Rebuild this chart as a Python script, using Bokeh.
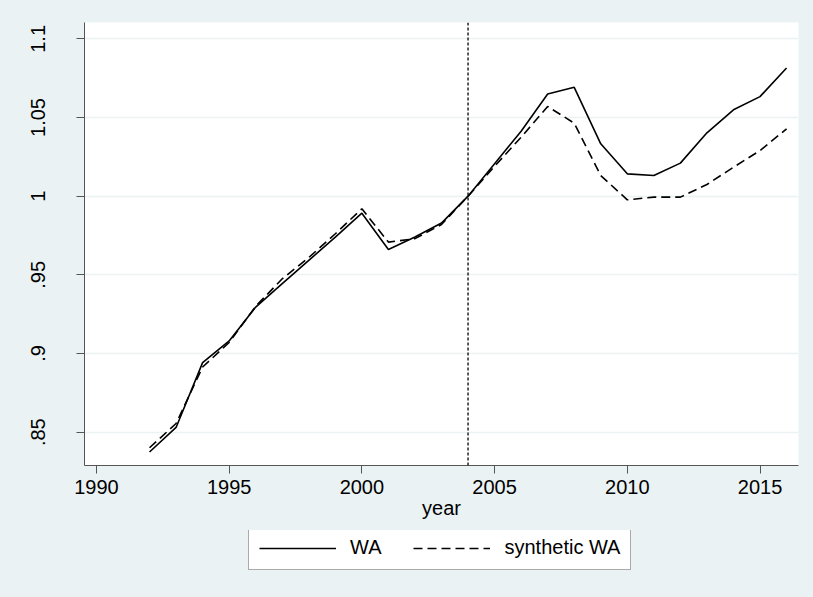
from bokeh.plotting import figure
from bokeh.layouts import column
from bokeh.models import Range1d, FixedTicker, Legend, LegendItem, Span
from bokeh.embed import file_html
from bokeh.resources import INLINE

years = list(range(1992, 2017))
wa = [0.8374, 0.8530, 0.8942, 0.9080, 0.9295, 0.9444, 0.9592, 0.9740, 0.9892,
      0.9661, 0.9740, 0.9829, 1.0000, 1.0206, 1.0413, 1.0650, 1.0692, 1.0333,
      1.0142, 1.0131, 1.0210, 1.0403, 1.0549, 1.0633, 1.0815]
synthetic_wa = [0.8401, 0.8555, 0.8914, 0.9070, 0.9300, 0.9475, 0.9610, 0.9761, 0.9920,
                0.9708, 0.9730, 0.9820, 1.0000, 1.0190, 1.0375, 1.0570, 1.0464, 1.0131,
                0.9977, 0.9994, 0.9994, 1.0074, 1.0184, 1.0290, 1.0428]
x_ticks = [1990, 1995, 2000, 2005, 2010, 2015]
y_ticks = [0.85, 0.9, 0.95, 1.0, 1.05, 1.1]
y_tick_labels = [".85", ".9", ".95", "1", "1.05", "1.1"]
series_labels = ["WA", "synthetic WA"]
treatment_year = 2004

BG = "#EAF2F3"
FONT = "Liberation Sans"

p = figure(frame_width=714, frame_height=443, output_backend="svg", toolbar_location=None,
           x_range=Range1d(1989.55, 2016.45), y_range=Range1d(0.8288, 1.1104),
           min_border_left=84, min_border_right=15, min_border_top=22, min_border_bottom=65)
p.background_fill_color = "white"
p.border_fill_color = BG
p.outline_line_color = None

# grid
p.xgrid.visible = False
p.ygrid.ticker = FixedTicker(ticks=y_ticks)
p.ygrid.grid_line_color = BG
p.ygrid.grid_line_width = 1.5

# axes
for ax in (p.xaxis[0], p.yaxis[0]):
    ax.axis_line_color = "#555555"
    ax.major_tick_line_color = "#555555"
    ax.major_tick_out = 8
    ax.major_tick_in = 0
    ax.minor_tick_out = 0
    ax.minor_tick_in = 0
    ax.major_label_text_font = FONT
    ax.major_label_text_font_size = "20px"
    ax.major_label_text_color = "black"

p.xaxis.ticker = FixedTicker(ticks=x_ticks)
p.xaxis.major_label_standoff = 6
p.xaxis.axis_label = "year"
p.xaxis.axis_label_text_font = FONT
p.xaxis.axis_label_text_font_size = "20px"
p.xaxis.axis_label_text_font_style = "normal"
p.xaxis.axis_label_text_color = "black"
p.xaxis.axis_label_standoff = 0

p.yaxis.ticker = FixedTicker(ticks=y_ticks)
p.yaxis.major_label_overrides = {t: l for t, l in zip(y_ticks, y_tick_labels)}
p.yaxis.major_label_orientation = "vertical"
p.yaxis.major_label_standoff = 31

# treatment line
p.add_layout(Span(location=treatment_year, dimension="height", line_color="black",
                  line_width=1.3, line_dash="3 2"))

p.line(years, wa, line_color="black", line_width=1.6)
p.line(years, synthetic_wa, line_color="black", line_width=1.6, line_dash="9 5")

# legend strip below the chart (same side borders so frames line up)
lg = figure(frame_width=714, frame_height=67, output_backend="svg", toolbar_location=None,
            x_range=Range1d(0, 1), y_range=Range1d(0, 1),
            min_border_left=84, min_border_right=15, min_border_top=0, min_border_bottom=0)
lg.axis.visible = False
lg.grid.visible = False
lg.outline_line_color = None
lg.background_fill_color = BG
lg.border_fill_color = BG
# key renderers: data kept outside the visible range, only their legend glyphs show
k1 = lg.line(years[:2], wa[:2], line_color="black", line_width=1.6)
k2 = lg.line(years[:2], synthetic_wa[:2], line_color="black", line_width=1.6, line_dash="9 5")

legend = Legend(items=[LegendItem(label=series_labels[0], renderers=[k1]),
                       LegendItem(label=series_labels[1], renderers=[k2])],
                orientation="horizontal", location=(164, 27),
                glyph_width=77, glyph_height=20, label_standoff=14, spacing=32,
                padding=10, margin=0,
                label_text_font=FONT, label_text_font_size="20px", label_text_color="black",
                border_line_color="#555555", border_line_width=1,
                background_fill_color="white", background_fill_alpha=1.0)
lg.add_layout(legend)

layout = column(p, lg, spacing=0, styles={"background-color": BG})
open("out.html", "w").write(file_html(layout, INLINE))
